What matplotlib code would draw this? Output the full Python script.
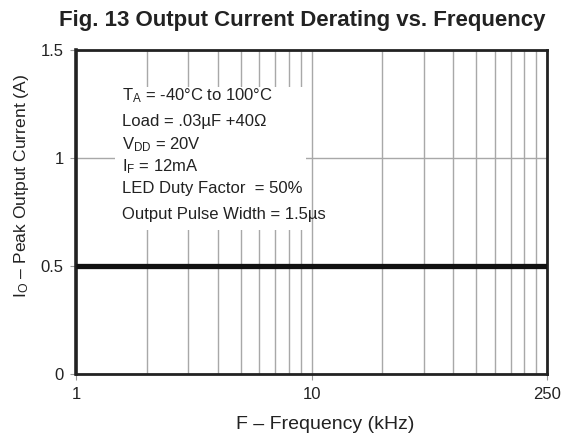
import matplotlib
matplotlib.use("Agg")
import matplotlib.pyplot as plt
from matplotlib.patches import Rectangle

plt.rcParams['font.family'] = ['Liberation Sans', 'DejaVu Sans']
plt.rcParams['mathtext.fontset'] = 'custom'
plt.rcParams['mathtext.rm'] = 'Liberation Sans'
plt.rcParams['mathtext.it'] = 'Liberation Sans'

# data
freq_khz = [1, 100]
current_a = [0.5, 0.5]
x_ticks = [1, 10, 100]
x_tick_labels = ["1", "10", "250"]
y_ticks = [0, 0.5, 1, 1.5]
y_tick_labels = ["0", "0.5", "1", "1.5"]
notes = [
    r"T$_\mathrm{A}$ = -40°C to 100°C",
    "Load = .03µF +40Ω",
    r"V$_\mathrm{DD}$ = 20V",
    r"I$_\mathrm{F}$ = 12mA",
    "LED Duty Factor  = 50%",
    "Output Pulse Width = 1.5µs",
]

fig = plt.figure(figsize=(5.64, 4.34), dpi=100)
ax = fig.add_axes([0.1348, 0.1382, 0.9699 - 0.1348, 0.8848 - 0.1382])
ax.set_xscale('log')
ax.set_xlim(1, 100)
ax.set_ylim(0, 1.5)

ax.grid(True, which='both', axis='x', color='#a8a8a8', lw=1.0)
ax.grid(True, which='major', axis='y', color='#a8a8a8', lw=1.0)
ax.set_axisbelow(True)

ax.plot(freq_khz, current_a, color='#111111', lw=3.8, solid_capstyle='butt', zorder=3)

ax.set_xticks(x_ticks)
ax.set_xticklabels(x_tick_labels)
ax.xaxis.set_minor_formatter(matplotlib.ticker.NullFormatter())
ax.tick_params(axis='x', which='minor', length=0)
ax.set_yticks(y_ticks)
ax.set_yticklabels(y_tick_labels)
ax.tick_params(axis='both', which='major', labelsize=12, colors='#222222',
               length=4, width=0.8, direction='out', pad=5)
ax.tick_params(axis='x', which='major', color='#999999')
ax.tick_params(axis='y', which='major', color='#999999')

for side, w in [('left', 2.6), ('right', 2.0), ('top', 2.0), ('bottom', 2.0)]:
    ax.spines[side].set_linewidth(w)
    ax.spines[side].set_color('#222222')

# white box behind notes
ax.add_patch(Rectangle((0.083, 0.444), 0.405, 0.442, transform=ax.transAxes,
                       facecolor='white', edgecolor='none', zorder=2))
ys = [0.846, 0.765, 0.694, 0.627, 0.559, 0.478]
for t, yy in zip(notes, ys):
    ax.text(0.098, yy, t, transform=ax.transAxes, fontsize=12, color='#222222',
            va='baseline', ha='left', zorder=4)

fig.text(0.536, 0.953, "Fig. 13 Output Current Derating vs. Frequency",
         ha='center', va='center', fontsize=16, fontweight='bold', color='#222222')
fig.text(0.576, 0.021, "F – Frequency (kHz)", ha='center', va='center',
         fontsize=14, color='#222222')
fig.text(0.039, 0.571, r"I$_\mathrm{O}$ – Peak Output Current (A)", ha='center',
         va='center', rotation=90, fontsize=12.6, color='#222222')

fig.savefig("out.png", dpi=100)
